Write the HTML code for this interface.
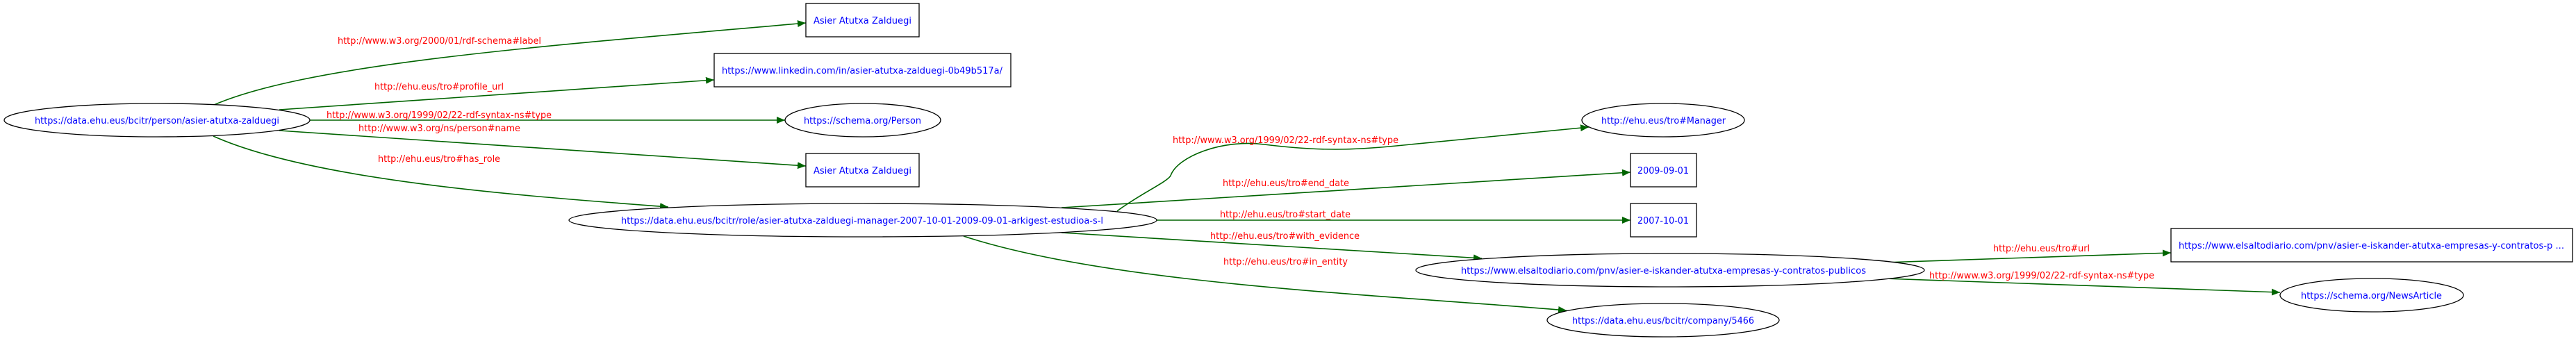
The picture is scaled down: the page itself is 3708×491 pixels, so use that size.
<!DOCTYPE html>
<html><head><meta charset="utf-8"><style>html,body{margin:0;padding:0;background:#fff;}svg{display:block}</style></head>
<body>
<svg width="3708" height="491" viewBox="0 0 3708 491" xmlns="http://www.w3.org/2000/svg" font-family="DejaVu Sans, Liberation Sans, sans-serif">
<defs>
<marker id="a" markerWidth="12" markerHeight="10" refX="12" refY="5" orient="auto" markerUnits="userSpaceOnUse">
<path d="M0,0 L12,5 L0,10 Z" fill="#006400"/>
</marker>
</defs>
<g fill="none" stroke="#006400" stroke-width="1.6" marker-end="url(#a)">
<path d="M308,151 C450,90 800,65 1160,33"/>
<path d="M402,158 L1028,115"/>
<path d="M446,173 L1130,173"/>
<path d="M402,188 L1160,239"/>
<path d="M307,196 C450,260 750,282 962,298"/>
<path d="M1608,304 C1640,280 1680,262 1685,253 C1695,225 1760,200 1820,208 C1900,218 1950,216 2010,210 L2287,183"/>
<path d="M1528,299 L2347,248"/>
<path d="M1665,317 L2347,317"/>
<path d="M1528,335 L2133,372"/>
<path d="M1387,340 C1600,410 2000,425 2255,447"/>
<path d="M2712,378 L3125,364"/>
<path d="M2712,401 L3282,421"/>
</g>
<g fill="#fff" stroke="#000" stroke-width="1.3">
<ellipse cx="226" cy="173" rx="220" ry="24"/>
<rect x="1160" y="5" width="163" height="48"/>
<rect x="1028" y="77" width="427" height="48"/>
<ellipse cx="1242" cy="173" rx="112" ry="24"/>
<rect x="1160" y="221" width="163" height="48"/>
<ellipse cx="1242" cy="317" rx="423" ry="24"/>
<ellipse cx="2394" cy="173" rx="117" ry="24"/>
<rect x="2347" y="221" width="95" height="48"/>
<rect x="2347" y="293" width="95" height="48"/>
<ellipse cx="2404" cy="389" rx="366" ry="24"/>
<ellipse cx="2394" cy="461" rx="167" ry="24"/>
<rect x="3125" y="329" width="578" height="48"/>
<ellipse cx="3414" cy="425" rx="132" ry="24"/>
</g>
<g fill="#0000ff" font-size="13" lengthAdjust="spacingAndGlyphs">
<text x="50" y="178" textLength="352" lengthAdjust="spacingAndGlyphs">https://data.ehu.eus/bcitr/person/asier-atutxa-zalduegi</text>
<text x="1171" y="34" textLength="141" lengthAdjust="spacingAndGlyphs">Asier Atutxa Zalduegi</text>
<text x="1039" y="106" textLength="404" lengthAdjust="spacingAndGlyphs">https://www.linkedin.com/in/asier-atutxa-zalduegi-0b49b517a/</text>
<text x="1157" y="178" textLength="169" lengthAdjust="spacingAndGlyphs">https://schema.org/Person</text>
<text x="1171" y="250" textLength="141" lengthAdjust="spacingAndGlyphs">Asier Atutxa Zalduegi</text>
<text x="894" y="322" textLength="694" lengthAdjust="spacingAndGlyphs">https://data.ehu.eus/bcitr/role/asier-atutxa-zalduegi-manager-2007-10-01-2009-09-01-arkigest-estudioa-s-l</text>
<text x="2305" y="178" textLength="179" lengthAdjust="spacingAndGlyphs">http://ehu.eus/tro#Manager</text>
<text x="2357" y="250" textLength="74" lengthAdjust="spacingAndGlyphs">2009-09-01</text>
<text x="2357" y="322" textLength="74" lengthAdjust="spacingAndGlyphs">2007-10-01</text>
<text x="2103" y="394" textLength="583" lengthAdjust="spacingAndGlyphs">https://www.elsaltodiario.com/pnv/asier-e-iskander-atutxa-empresas-y-contratos-publicos</text>
<text x="2263" y="466" textLength="262" lengthAdjust="spacingAndGlyphs">https://data.ehu.eus/bcitr/company/5466</text>
<text x="3136" y="358" textLength="555" lengthAdjust="spacingAndGlyphs">https://www.elsaltodiario.com/pnv/asier-e-iskander-atutxa-empresas-y-contratos-p ...</text>
<text x="3312" y="430" textLength="203" lengthAdjust="spacingAndGlyphs">https://schema.org/NewsArticle</text>
</g>
<g fill="#ff0000" font-size="13">
<text x="486" y="63" textLength="293" lengthAdjust="spacingAndGlyphs">http://www.w3.org/2000/01/rdf-schema#label</text>
<text x="539" y="129" textLength="186" lengthAdjust="spacingAndGlyphs">http://ehu.eus/tro#profile_url</text>
<text x="470" y="170" textLength="324" lengthAdjust="spacingAndGlyphs">http://www.w3.org/1999/02/22-rdf-syntax-ns#type</text>
<text x="516" y="189" textLength="233" lengthAdjust="spacingAndGlyphs">http://www.w3.org/ns/person#name</text>
<text x="544" y="233" textLength="176" lengthAdjust="spacingAndGlyphs">http://ehu.eus/tro#has_role</text>
<text x="1688" y="206" textLength="325" lengthAdjust="spacingAndGlyphs">http://www.w3.org/1999/02/22-rdf-syntax-ns#type</text>
<text x="1760" y="268" textLength="182" lengthAdjust="spacingAndGlyphs">http://ehu.eus/tro#end_date</text>
<text x="1756" y="313" textLength="188" lengthAdjust="spacingAndGlyphs">http://ehu.eus/tro#start_date</text>
<text x="1742" y="344" textLength="215" lengthAdjust="spacingAndGlyphs">http://ehu.eus/tro#with_evidence</text>
<text x="1761" y="381" textLength="179" lengthAdjust="spacingAndGlyphs">http://ehu.eus/tro#in_entity</text>
<text x="2869" y="362" textLength="139" lengthAdjust="spacingAndGlyphs">http://ehu.eus/tro#url</text>
<text x="2777" y="401" textLength="324" lengthAdjust="spacingAndGlyphs">http://www.w3.org/1999/02/22-rdf-syntax-ns#type</text>
</g>
</svg>
</body></html>
